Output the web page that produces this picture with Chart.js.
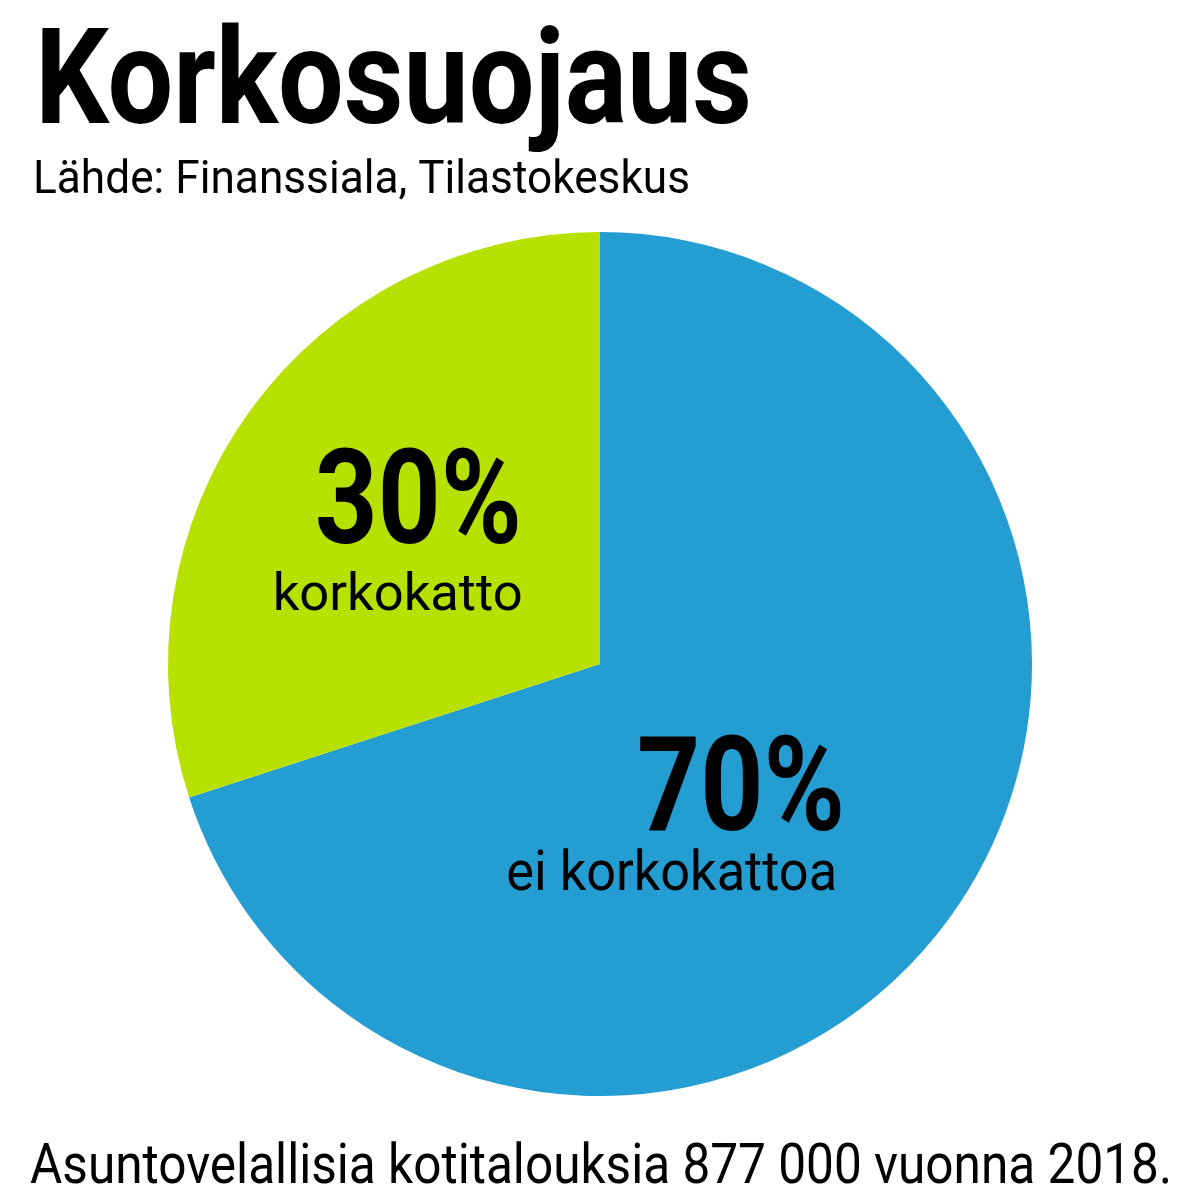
<!DOCTYPE html>
<html>
<head>
<meta charset="utf-8">
<script src="https://cdn.jsdelivr.net/npm/chart.js@4.4.1/dist/chart.umd.min.js"></script>
<style>
  html, body { margin: 0; padding: 0; background: #fff; }
  #wrap { width: 1200px; height: 1200px; }
</style>
</head>
<body>
<div id="wrap"><canvas id="pie" width="1200" height="1200"></canvas></div>
<script>
// chart data
const categories = ["ei korkokattoa", "korkokatto"];
const shares = [70, 30];
const sliceColors = ["#239dd2", "#b8e000"];

const titleText = "Korkosuojaus";
const sourceText = "Lähde: Finanssiala, Tilastokeskus";
const footerText = "Asuntovelallisia kotitalouksia 877 000 vuonna 2018.";

const FONT = "Roboto, 'Liberation Sans', sans-serif";

// draw text squeezed to a given width (the original uses a condensed face)
const drawFit = (ctx, text, x, y, font, width, align) => {
  ctx.save();
  ctx.font = font;
  ctx.textAlign = "left";
  ctx.textBaseline = "alphabetic";
  const w = ctx.measureText(text).width;
  const sx = width / w;
  const left = align === "right" ? x - width : x;
  ctx.translate(left, y);
  ctx.scale(sx, 1);
  ctx.fillStyle = "#000";
  ctx.fillText(text, 0, 0);
  ctx.restore();
};

// label placement relative to each slice: offsets as fractions of the radius
const labelStyle = [
  { // 70 %
    big: { dx: 0.567, dy: 0.384, size: 131, width: 208 },
    small: { dx: 0.549, dy: 0.523, size: 55, width: 331 }
  },
  { // 30 %
    big: { dx: -0.181, dy: -0.28, size: 131, width: 207 },
    small: { dx: -0.179, dy: -0.125, size: 52, width: 250 }
  }
];

const textPlugin = {
  id: "texts",
  afterDatasetsDraw(chart) {
    const ctx = chart.ctx;
    // headings
    drawFit(ctx, titleText, 35, 123, "700 134px " + FONT, 717, "left");
    drawFit(ctx, sourceText, 33, 193, "400 46px " + FONT, 657, "left");
    drawFit(ctx, footerText, 30, 1183, "400 56px " + FONT, 1142, "left");

    // slice labels
    const meta = chart.getDatasetMeta(0);
    meta.data.forEach((arc, i) => {
      const { x, y, outerRadius } = arc.getProps(["x", "y", "outerRadius"], true);
      const st = labelStyle[i];
      drawFit(ctx, shares[i] + "%", x + st.big.dx * outerRadius, y + st.big.dy * outerRadius,
        "700 " + st.big.size + "px " + FONT, st.big.width, "right");
      drawFit(ctx, categories[i], x + st.small.dx * outerRadius, y + st.small.dy * outerRadius,
        "400 " + st.small.size + "px " + FONT, st.small.width, "right");
    });
  }
};

const build = () => {
  new Chart(document.getElementById("pie"), {
    type: "pie",
    data: {
      labels: categories,
      datasets: [{
        data: shares,
        backgroundColor: sliceColors,
        borderWidth: 0
      }]
    },
    options: {
      responsive: false,
      animation: false,
      layout: { padding: { top: 232, bottom: 104, left: 168, right: 168 } },
      plugins: {
        legend: { display: false },
        tooltip: { enabled: false }
      }
    },
    plugins: [textPlugin]
  });
};

Promise.all([
  document.fonts.load("700 134px Roboto"),
  document.fonts.load("400 50px Roboto")
]).then(build, build);
</script>
</body>
</html>
